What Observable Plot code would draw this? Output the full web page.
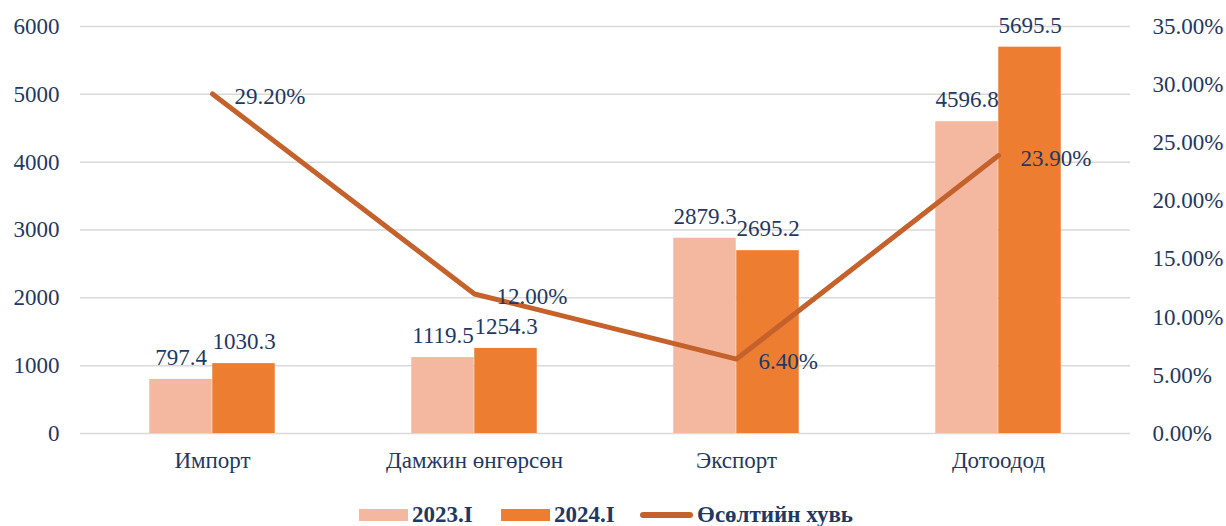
<!DOCTYPE html>
<html>
<head>
<meta charset="utf-8">
<script src="https://cdn.jsdelivr.net/npm/d3@7"></script>
<script src="https://cdn.jsdelivr.net/npm/@observablehq/plot@0.6"></script>
<style>
  body { margin: 0; background: #fff; font-family: "Liberation Serif", "Times New Roman", serif; }
  #wrap { width: 1226px; position: relative; }
  #chart svg, #chart svg text { font-family: "Liberation Serif", "Times New Roman", serif !important; }
  #legend { position: relative; height: 30px; width: 1226px; color: #1f3864; font-weight: bold; font-size: 23px; }
  .item { position: absolute; top: 4px; height: 30px; display: flex; align-items: center; }
  .item span { margin-left: 4px; }
</style>
</head>
<body>
<div id="wrap">
  <div id="chart"></div>
  <div id="legend"></div>
</div>
<script>
const categories = ["Импорт", "Дамжин өнгөрсөн", "Экспорт", "Дотоодод"];
const values2023 = [797.4, 1119.5, 2879.3, 4596.8];
const values2024 = [1030.3, 1254.3, 2695.2, 5695.5];
const growthPct = [29.2, 12.0, 6.4, 23.9];
const leftTicks = [0, 1000, 2000, 3000, 4000, 5000, 6000];
const rightTicks = [0, 5, 10, 15, 20, 25, 30, 35];
const seriesNames = ["2023.I", "2024.I", "Өсөлтийн хувь"];

const W = 1226, H = 496;
const mL = 80, mR = 96, mT = 26, mB = 63;
const leftMax = 6000, rightMax = 35;
const toLeft = p => p * leftMax / rightMax;
const bw = (W - mL - mR) / categories.length;
const barW = 63;
const navy = "#1f3864";
const c2023 = "#f4b8a1", c2024 = "#ed7d31", cLine = "#c5622b";
const serif = "'Liberation Serif', serif";

const chart = Plot.plot({
  width: W, height: H,
  marginLeft: mL, marginRight: mR, marginTop: mT, marginBottom: mB,
  style: { fontFamily: serif, fontSize: "23px", color: navy, background: "white" },
  x: { domain: categories, padding: 0, label: null },
  y: { domain: [0, leftMax], label: null },
  marks: [
    Plot.ruleY(leftTicks, { stroke: "#d9d9d9", strokeWidth: 1.5 }),
    Plot.barY(categories, { x: d => d, y: (d, i) => values2023[i], fill: c2023, insetLeft: bw / 2 - barW, insetRight: bw / 2 }),
    Plot.barY(categories, { x: d => d, y: (d, i) => values2024[i], fill: c2024, insetLeft: bw / 2, insetRight: bw / 2 - barW }),
    Plot.line(categories, { x: d => d, y: (d, i) => toLeft(growthPct[i]), stroke: cLine, strokeWidth: 5, strokeLinecap: "round", strokeLinejoin: "round" }),
    Plot.text(categories, { x: d => d, y: (d, i) => values2023[i], text: (d, i) => values2023[i].toFixed(1), dx: -barW / 2, dy: -22, lineAnchor: "middle", fill: navy, fontFamily: serif }),
    Plot.text(categories, { x: d => d, y: (d, i) => values2024[i], text: (d, i) => values2024[i].toFixed(1), dx: barW / 2, dy: -22, lineAnchor: "middle", fill: navy, fontFamily: serif }),
    Plot.text(categories, { x: d => d, y: (d, i) => toLeft(growthPct[i]), text: (d, i) => growthPct[i].toFixed(2) + "%", dx: 22, dy: 3, textAnchor: "start", lineAnchor: "middle", fill: navy, fontFamily: serif }),
    Plot.axisY(leftTicks, { anchor: "left", tickSize: 0, tickPadding: 21, label: null, fill: navy, tickFormat: d => String(d) }),
    Plot.axisY(rightTicks.map(toLeft), { anchor: "right", tickSize: 0, tickPadding: 22, label: null, fill: navy,
      tickFormat: v => (Math.round(v * rightMax / leftMax * 100) / 100).toFixed(2) + "%" }),
    Plot.axisX({ tickSize: 0, tickPadding: 18, label: null, fill: navy })
  ]
});
document.getElementById("chart").appendChild(chart);

// legend
const legend = document.getElementById("legend");
const items = [
  { name: seriesNames[0], left: 359, sw: `<svg width="49" height="14"><rect x="0" y="1" width="49" height="12" fill="${c2023}"/></svg>` },
  { name: seriesNames[1], left: 501, sw: `<svg width="49" height="14"><rect x="0" y="1" width="49" height="12" fill="${c2024}"/></svg>` },
  { name: seriesNames[2], left: 640, sw: `<svg width="53" height="14"><line x1="3" y1="7" x2="50" y2="7" stroke="${cLine}" stroke-width="6" stroke-linecap="round"/></svg>` }
];
for (const it of items) {
  const div = document.createElement("div");
  div.className = "item";
  div.style.left = it.left + "px";
  div.innerHTML = it.sw + `<span>${it.name}</span>`;
  legend.appendChild(div);
}
</script>
</body>
</html>
